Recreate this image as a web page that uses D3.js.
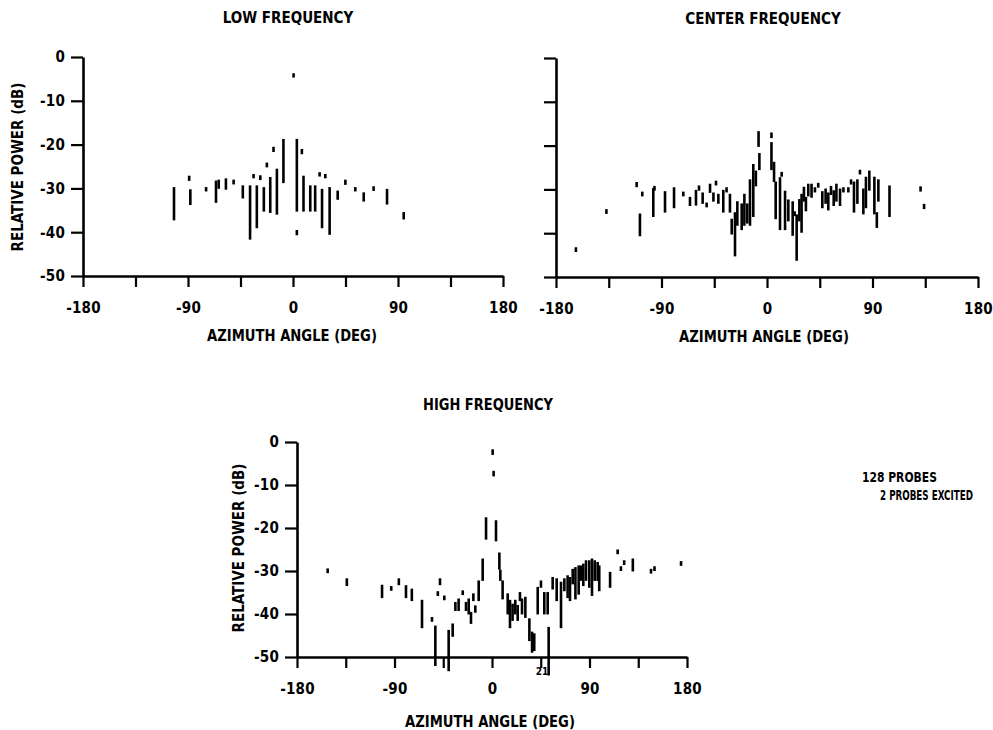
<!DOCTYPE html>
<html>
<head>
<meta charset="utf-8">
<script src="https://cdn.jsdelivr.net/npm/d3@7"></script>
<style>
  body { margin: 0; background: #fff; }
  svg { display: block; }
  .lbl { font-family: "Liberation Sans Narrow", "DejaVu Sans Condensed", "Arial Narrow", sans-serif; font-weight: bold; fill: #000; }
</style>
</head>
<body>
<div id="chart"></div>
<script>
// eixos comuns
const xTicks = [-180, -135, -90, -45, 0, 45, 90, 135, 180];
const yTicks = [0, -10, -20, -30, -40, -50];

// LOW FREQUENCY: angulo, topo e base de cada traco (dB)
const lowAngle  = [-102, -89, -88, -74.5, -66, -63.7, -57.5, -50.9, -43, -36.8, -33.8, -31, -28, -25, -22.4, -19.5, -16.7, -13.8, -8.2, 0.5, 3.3, 3.3, 7.6, 9, 14.8, 19, 22.8, 24.9, 27.7, 31.4, 38.3, 44.9, 53.4, 60.6, 69.1, 80.6, 94.9];
const lowTop    = [-30, -27.4, -30.5, -30, -28.5, -28.3, -28, -28.3, -29.6, -29.6, -27, -29.6, -27.3, -30, -24.4, -27.7, -20.8, -25.8, -19, -4, -19, -39.8, -21.3, -27.4, -29.6, -29.6, -26.6, -30.4, -27, -30, -30.8, -28.3, -30, -31.2, -29.8, -30.4, -35.7];
const lowBottom = [-37, -28, -33.5, -30.4, -33, -29.8, -30, -28.8, -32, -41.4, -27.4, -38.8, -27.8, -35, -24.9, -35.3, -21.4, -35.7, -28.5, -4.4, -35, -40.4, -21.9, -35, -35, -35, -27, -38.8, -27.4, -40.3, -32.3, -28.9, -30.4, -32.7, -30.3, -33.4, -36.8];

// CENTER FREQUENCY
const centerAngle  = [-163, -137, -111.2, -108.4, -106.4, -97, -96, -87, -79.3, -71.4, -65.7, -60.6, -58, -54.9, -51.5, -48.6, -45.7, -43.5, -41.5, -37.3, -34.5, -31.6, -30.1, -27.3, -25.3, -21.6, -19.3, -16.8, -14.5, -11.7, -9.5, -7.2, -6.5, 3.8, 3.8, 6, 7.4, 11.1, 12.5, 15.4, 18.2, 21.9, 23.6, 25.3, 27.6, 29.5, 31.5, 33.2, 35.2, 38, 40.9, 43.7, 47.2, 50, 52.3, 54.6, 56.9, 59.2, 62.3, 65.2, 69.4, 71.7, 74.2, 77.1, 79.3, 82.2, 84.4, 87.3, 91.6, 93.7, 95, 104.5, 131, 134];
const centerTop    = [-43.5, -34.8, -28.6, -35.8, -30.8, -30, -29.5, -30.7, -29.8, -30.8, -32, -30.4, -29.4, -31, -33.3, -29, -31, -28.3, -31.3, -30.4, -29.8, -31.3, -37, -35.5, -33, -33.5, -31.3, -33.5, -28, -24.5, -26, -17, -22, -17.3, -19.5, -24, -28.5, -27.5, -26.3, -30.6, -32.6, -33, -35.3, -36, -32.5, -31.3, -29.7, -32, -29, -29, -29.8, -28.8, -30.7, -30.1, -31, -29.5, -30.5, -29, -30.1, -29.8, -29.8, -28, -28.5, -28, -25.8, -30.1, -27.4, -26, -27.4, -35.5, -28, -29.4, -29.6, -33.6];
const centerBottom = [-44, -35.3, -29.2, -40.4, -31.3, -36, -30, -35, -34, -31.3, -33.5, -33.4, -30, -33, -33.8, -30.5, -32.5, -28.8, -33, -35, -30.4, -35, -40, -45, -38, -39, -38, -37.5, -38, -36, -29, -20, -25.3, -18, -25.3, -28, -36.5, -39, -26.8, -39, -37, -40.3, -35.8, -46, -37, -39.6, -32.5, -34.7, -31.3, -31.6, -30.4, -29.3, -34, -33, -34.5, -31, -33.5, -32.5, -33.5, -30.4, -30.4, -28.6, -35, -33, -26.3, -35.4, -34, -30, -35.4, -38.5, -32.5, -36, -30.2, -34.2];

// HIGH FREQUENCY
const highAngle  = [-151.7, -134, -101.5, -93, -86, -79.4, -74, -64.6, -55.4, -52.3, -50, -48, -44, -40, -36.3, -33.8, -30.8, -27, -24, -21.5, -19.4, -17.2, -15.4, -12.3, -8.6, -5.5, 3.7, 0.6, 1.5, 6.8, 7.7, 9.8, 14.5, 16.6, 19, 21.5, 23.7, 25.8, 27.7, 30.8, 34.5, 37, 39, 42.2, 45.2, 48.3, 51.4, 52.3, 56, 59.7, 63.7, 66.8, 69.8, 72, 74.5, 77, 80, 82, 84.3, 86.8, 89.8, 92.3, 94.8, 97.5, 99, 109, 116, 119, 122, 130, 146.8, 150, 174.5];
const highTop    = [-29.7, -32, -33.5, -33.8, -32, -33.6, -34.4, -37, -41, -43, -35, -32, -36, -44, -42.5, -37.5, -36.7, -34.8, -37.5, -36.7, -39.8, -35.5, -38.3, -32.5, -27.4, -17.8, -18.5, -2, -7, -26, -30, -32.5, -35.5, -37, -37.9, -37, -38.2, -35.2, -36.7, -36.3, -41.3, -44.4, -44.8, -34, -32.5, -35.2, -35.2, -43.3, -31.7, -32, -32.8, -32, -31.3, -31.7, -29.8, -29.4, -29, -29, -28.6, -27.8, -27.8, -27.4, -27.8, -28.2, -29, -30.5, -25.3, -29.2, -27.8, -27.4, -29.8, -29.2, -28];
const highBottom = [-30.2, -33.2, -36, -34.3, -33, -36, -36.7, -43, -41.5, -51.8, -35.5, -33, -36.5, -53, -45, -39, -39, -35.3, -39, -39.8, -42, -36.7, -39.4, -36.7, -32, -22.4, -22.8, -2.7, -7.7, -29.4, -32, -36.3, -39.8, -43, -41.3, -39.8, -41.3, -36.7, -39.8, -40.6, -46, -48.7, -48.3, -39.8, -33.6, -39.8, -39.8, -54, -34, -36.7, -43, -34.4, -36, -36.7, -32.8, -36.3, -35.2, -32, -33.2, -32, -33.6, -35.5, -32, -32, -34.4, -33.6, -25.8, -29.7, -28.3, -29.8, -30.3, -29.7, -28.5];

const W = 993, H = 730;
const svg = d3.select('#chart').append('svg').attr('width', W).attr('height', H);

// texto em negrito comprimido na horizontal até a largura
function label(parent, txt, x, y, size, len, anchor) {
  const t = parent.append('text').attr('class', 'lbl')
    .attr('text-anchor', anchor || 'middle').style('font-size', size + 'px').text(txt);
  const sx = Math.min(1, len / t.node().getComputedTextLength());
  t.attr('transform', `translate(${x},${y}) scale(${sx},1)`);
  return t;
}

function drawPanel({ angle, top, bottom, xRange, yRange, title, titleX, titleY, titleLen, xLabelX, xLabelY, yLabelX, yLabelY, yLabelLen, yLabels }) {
  const x = d3.scaleLinear().domain([-180, 180]).range(xRange);
  const y = d3.scaleLinear().domain([-50, 0]).range(yRange);
  const g = svg.append('g');

  const xAxis = g.append('g').attr('transform', `translate(0,${yRange[0]})`)
    .call(d3.axisBottom(x).tickValues(xTicks).tickSize(11).tickPadding(15).tickSizeOuter(0)
      .tickFormat(d => d % 90 === 0 ? String(d) : ''));
  const yAxis = g.append('g').attr('transform', `translate(${xRange[0]},0)`)
    .call(d3.axisLeft(y).tickValues(yTicks).tickSize(12).tickPadding(6).tickSizeOuter(0)
      .tickFormat(d => yLabels ? String(d) : ''));
  [xAxis, yAxis].forEach(a => {
    a.select('.domain').attr('stroke', '#000').attr('stroke-width', 2.6);
    a.selectAll('.tick line').attr('stroke', '#000').attr('stroke-width', 2.2);
    a.selectAll('.tick text').attr('class', 'lbl').style('font-size', '15px').style('letter-spacing', '0.2px');
  });

  const segs = angle.map((a, i) => ({ a, t: top[i], b: bottom[i] }));
  g.append('g').selectAll('line').data(segs).enter().append('line')
    .attr('x1', d => x(d.a)).attr('x2', d => x(d.a))
    .attr('y1', d => y(d.t)).attr('y2', d => y(d.b))
    .attr('stroke', '#000').attr('stroke-width', 2.6).attr('stroke-linecap', 'square');

  label(g, title, titleX, titleY, 15, titleLen);
  label(g, 'AZIMUTH ANGLE (DEG)', xLabelX, xLabelY, 15, 170);
  if (yLabelX) {
    label(g, 'RELATIVE POWER (dB)', 0, 0, 15, yLabelLen).attr('dy', '0.36em')
      .attr('transform', function () {
        return `translate(${yLabelX},${yLabelY}) rotate(-90) ` + d3.select(this).attr('transform').replace(/translate\([^)]*\)\s*/, '');
      });
  }
  return { x, y };
}

drawPanel({ angle: lowAngle, top: lowTop, bottom: lowBottom, xRange: [83, 503], yRange: [276, 57],
  title: 'LOW FREQUENCY', titleX: 288, titleY: 23, titleLen: 133, xLabelX: 292, xLabelY: 341,
  yLabelX: 18, yLabelY: 167, yLabelLen: 177, yLabels: true });

drawPanel({ angle: centerAngle, top: centerTop, bottom: centerBottom, xRange: [556, 978], yRange: [277, 58],
  title: 'CENTER FREQUENCY', titleX: 763, titleY: 24, titleLen: 163, xLabelX: 764, xLabelY: 342,
  yLabels: false });

const high = drawPanel({ angle: highAngle, top: highTop, bottom: highBottom, xRange: [297, 687], yRange: [657, 442],
  title: 'HIGH FREQUENCY', titleX: 488, titleY: 410, titleLen: 130, xLabelX: 490, xLabelY: 727,
  yLabelX: 239, yLabelY: 548, yLabelLen: 183, yLabels: true });

// marca solta junto ao eixo
svg.append('text').attr('class', 'lbl').attr('x', high.x(52)).attr('y', 675)
  .attr('text-anchor', 'end').style('font-size', '10px').text('21');

label(svg, '128 PROBES', 862, 482, 14, 75, 'start');
label(svg, '2 PROBES EXCITED', 880, 500, 14, 93, 'start');
</script>
</body>
</html>
